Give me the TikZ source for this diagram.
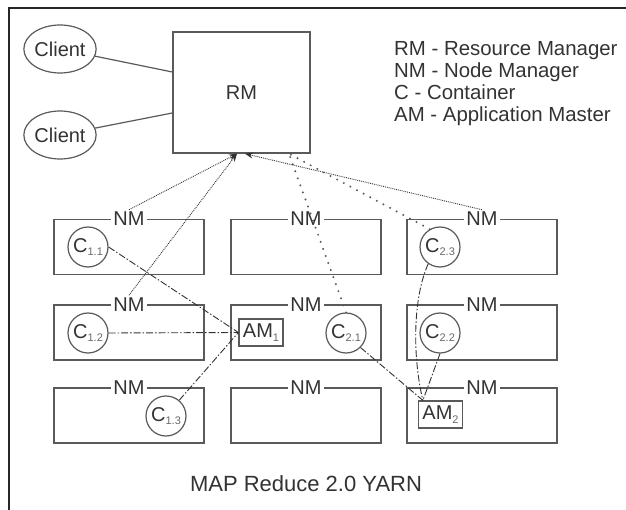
\documentclass[tikz,border=0pt]{standalone}
\usepackage{fontspec}
\setmainfont{Liberation Sans}
\usetikzlibrary{shapes.geometric,arrows.meta}
\definecolor{ink}{HTML}{333333}
\definecolor{edge}{HTML}{5A5A5A}
\definecolor{subgray}{HTML}{6A6A6A}
\newcommand{\fsz}[1]{\fontsize{#1}{#1}\selectfont}
\newcommand{\csub}[2]{#1\raisebox{-3.5pt}{\fsz{11}\color{subgray}#2}}
\begin{document}
\begin{tikzpicture}[x=1pt,y=-1pt,
  nmbox/.style={draw=edge, line width=1.4pt, minimum width=150pt, minimum height=55pt, inner sep=0pt},
  nmlabel/.style={fill=white, text=ink, inner sep=2pt, font=\fsz{20}},
  cont/.style={circle, draw=edge, line width=1.2pt, minimum size=40pt, inner sep=0pt, text=ink, font=\fsz{20}},
  ambox/.style={draw=edge, line width=1.2pt, minimum width=44pt, minimum height=27pt, inner sep=0pt, text=ink, font=\fsz{20}},
  client/.style={ellipse, draw=edge, line width=1.2pt, minimum width=72pt, minimum height=48pt, inner sep=0pt, text=ink, font=\fsz{20}},
  legend/.style={anchor=base west, inner sep=0pt, text=ink, font=\fsz{20.4}},
  toRM/.style={draw=ink, line width=0.9pt, densely dotted, -{Stealth[length=8pt,width=6pt]}},
  sparse/.style={draw=edge, line width=2.2pt, line cap=round, dash pattern=on 0pt off 7.5pt},
  dashdot/.style={draw=ink, line width=0.9pt, dash pattern=on 7pt off 2pt on 1.5pt off 2pt},
  link/.style={draw=edge, line width=1.2pt}
]
\useasboundingbox (0,0) rectangle (626,510);
\fill[white] (0,0) rectangle (626,510);
% outer frame, open to the right and bottom
\draw[line width=2pt, black!85] (9,510) -- (9,8) -- (626,8);

% resource manager and clients
\node[draw=edge, line width=1.4pt, minimum width=137pt, minimum height=121pt, inner sep=0pt, text=ink, font=\fsz{20}] (RM) at (241.5,92.5) {RM};
\node[client] (cl1) at (60,49) {Client};
\node[client] (cl2) at (60,135) {Client};
\draw[link] (cl1) -- ([yshift=20.5pt]RM.west);
\draw[link] (cl2) -- ([yshift=-20.5pt]RM.west);

% legend
\node[legend] (lg1) at (394,56) {RM - Resource Manager};
\node[legend] (lg2) at (394,78) {NM - Node Manager};
\node[legend] (lg3) at (394,100) {C - Container};
\node[legend] (lg4) at (394,122) {AM - Application Master};

% node manager boxes
\foreach \c/\x in {1/129,2/306,3/482}{
  \foreach \r/\y in {1/247,2/332.5,3/415.5}{
    \node[nmbox] (b\r\c) at (\x,\y) {};
    \node[nmlabel] (n\r\c) at (b\r\c.north) {NM};
  }
}

% containers and application masters
\node[cont] (C11) at (88,247) {\csub{C}{1.1}};
\node[cont] (C12) at (88,333) {\csub{C}{1.2}};
\node[cont] (C13) at (166,416) {\csub{C}{1.3}};
\node[cont] (C21) at (346,333) {\csub{C}{2.1}};
\node[cont] (C22) at (440,333) {\csub{C}{2.2}};
\node[cont] (C23) at (440,247) {\csub{C}{2.3}};
\node[ambox] (AM1) at (261,332.5) {\csub{AM}{1}};
\node[ambox] (AM2) at (440.5,414.5) {\csub{AM}{2}};

% anchor points on the RM box
\coordinate (rmA) at ([xshift=-4.5pt]RM.south);
\coordinate (rmB) at ([xshift=3.5pt]RM.south);
\coordinate (rmC) at ([xshift=47.5pt]RM.south);
\coordinate (am2in) at ([xshift=5pt]AM2.north west);

% heartbeats to the resource manager
\draw[toRM] (n11.north) -- (rmA);
\draw[toRM] (n21.north) -- (rmA);
\draw[toRM] (n13.north) -- (rmB);
\draw[sparse] (C21.north) -- (rmC);
\draw[sparse] (C23.120) -- (rmC);

% containers reporting to their application masters
\draw[dashdot] (C11.east) -- (AM1.west);
\draw[dashdot] (C12.east) -- (AM1.west);
\draw[dashdot] (C13.50) -- (AM1.west);
\draw[dashdot] (C21.-45) -- (am2in);
\draw[dashdot] (C22.south) -- (am2in);
\draw[dashdot] (C23.-125) .. controls (412,300) and (413,360) .. (am2in);

% caption
\node[text=ink, font=\fsz{22}, inner sep=0pt] (title) at (306,484) {MAP Reduce 2.0 YARN};
\end{tikzpicture}
\end{document}
